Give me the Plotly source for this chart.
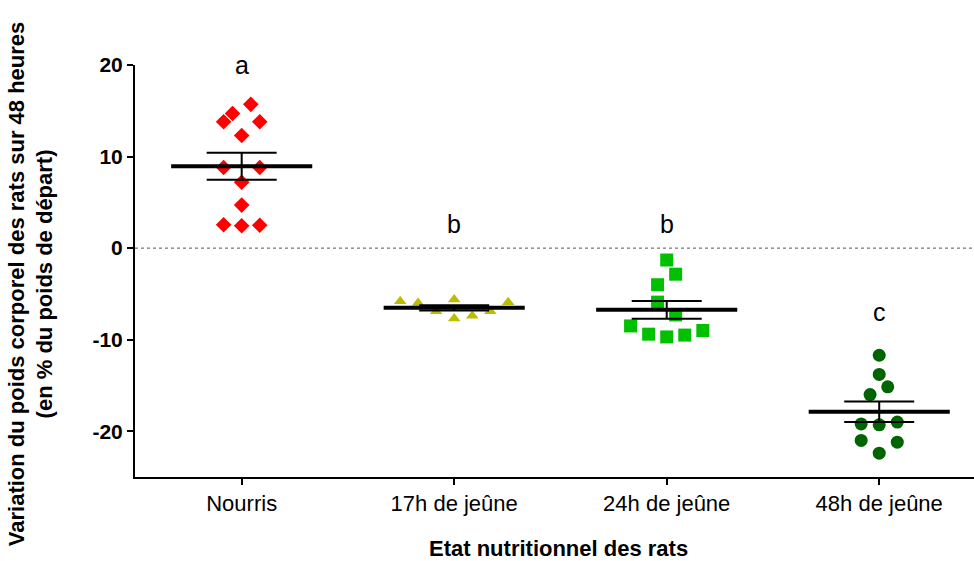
import numpy as np
import plotly.graph_objects as go

# ---- data ----
categories = ["Nourris", "17h de jeûne", "24h de jeûne", "48h de jeûne"]
nourris = [15.7, 14.7, 13.8, 13.8, 12.3, 8.8, 8.8, 7.2, 4.7, 2.55, 2.45, 2.5]
jeune17 = [-5.8, -6.0, -6.9, -5.6, -7.7, -7.4, -6.9, -5.9]
jeune24 = [-1.3, -2.85, -4.0, -5.9, -7.3, -8.5, -9.4, -9.7, -9.5, -9.0]
jeune48 = [-11.7, -13.8, -15.15, -16.0, -19.2, -19.3, -19.0, -21.0, -21.2, -22.4]
letters = ["a", "b", "b", "c"]
letter_y = [20, 2.6, 2.6, -7.0]
y_ticks = [-20, -10, 0, 10, 20]

# horizontal scatter offsets (category units) as in the original dot plot
off_nourris = [0.043, -0.043, -0.085, 0.085, 0, -0.085, 0.085, 0, 0, -0.085, 0, 0.085]
off_17 = [-0.254, -0.17, -0.085, 0, 0, 0.085, 0.17, 0.254]
off_24 = [0, 0.042, -0.043, -0.043, 0.042, -0.17, -0.085, 0, 0.085, 0.17]
off_48 = [0, 0, 0.04, -0.043, -0.085, 0, 0.085, -0.085, 0.085, 0]

groups = [nourris, jeune17, jeune24, jeune48]
offsets = [off_nourris, off_17, off_24, off_48]
colors = ["#FF0000", "#BDBD00", "#00C000", "#006400"]
symbols = ["diamond", "triangle-up", "square", "circle"]
sizes = [12, 11, 13, 13]

FONT = "Liberation Sans, Arial, sans-serif"

fig = go.Figure()

for i, (vals, offs) in enumerate(zip(groups, offsets)):
    fig.add_trace(go.Scatter(
        x=[i + o for o in offs], y=vals, mode="markers",
        marker=dict(symbol=symbols[i], color=colors[i], size=sizes[i], line=dict(width=0)),
        showlegend=False, hoverinfo="y"))

means = [float(np.mean(g)) for g in groups]
sems = [float(np.std(g, ddof=1) / np.sqrt(len(g))) for g in groups]

# SEM error bars
fig.add_trace(go.Scatter(
    x=list(range(len(categories))), y=means, mode="markers",
    marker=dict(size=1, color="rgba(0,0,0,0)"),
    error_y=dict(type="data", array=sems, symmetric=True, color="black", thickness=2, width=35),
    showlegend=False, hoverinfo="skip"))

# mean lines
mx, my = [], []
for i, m in enumerate(means):
    mx += [i - 0.332, i + 0.332, None]
    my += [m, m, None]
fig.add_trace(go.Scatter(x=mx, y=my, mode="lines", line=dict(color="black", width=4),
                         showlegend=False, hoverinfo="skip"))

# zero reference line
fig.add_shape(type="line", xref="paper", x0=0, x1=1, yref="y", y0=0, y1=0,
              line=dict(color="#555555", width=1, dash="dot"), layer="below")

# significance letters
for i, (t, yv) in enumerate(zip(letters, letter_y)):
    fig.add_annotation(x=i, y=yv, text=t, showarrow=False,
                       font=dict(family=FONT, size=25, color="black"))

# axis titles
fig.add_annotation(xref="paper", yref="paper", x=0, y=0.468, xshift=-104, xanchor="center",
                   yanchor="middle",
                   text="<b>Variation du poids corporel des rats sur 48 heures</b><br><b>(en % du poids de départ)</b>",
                   textangle=-90, showarrow=False, align="center",
                   font=dict(family=FONT, size=22, color="black"))
fig.add_annotation(xref="paper", yref="paper", x=0.505, y=0, yshift=-71, yanchor="middle",
                   text="<b>Etat nutritionnel des rats</b>", showarrow=False,
                   font=dict(family=FONT, size=22, color="black"))

fig.update_layout(
    width=974, height=561,
    margin=dict(l=135, r=0, t=65, b=84),
    paper_bgcolor="white", plot_bgcolor="white",
    xaxis=dict(range=[-0.502, 3.446], tickvals=list(range(len(categories))), ticktext=categories,
               showline=True, linecolor="black", linewidth=2, ticks="outside", ticklen=6,
               tickwidth=2, tickcolor="black", showgrid=False, zeroline=False,
               tickfont=dict(family=FONT, size=22, color="black")),
    yaxis=dict(range=[-25, 20], tickvals=y_ticks, ticktext=["<b>%d</b>" % v for v in y_ticks],
               showline=True, linecolor="black", linewidth=2, ticks="outside", ticklen=6,
               tickwidth=2, tickcolor="black", showgrid=False, zeroline=False,
               tickfont=dict(family=FONT, size=21, color="black")),
)

fig.write_html("out.html", config={"displayModeBar": False},
               post_script="document.body.style.margin='0';")
